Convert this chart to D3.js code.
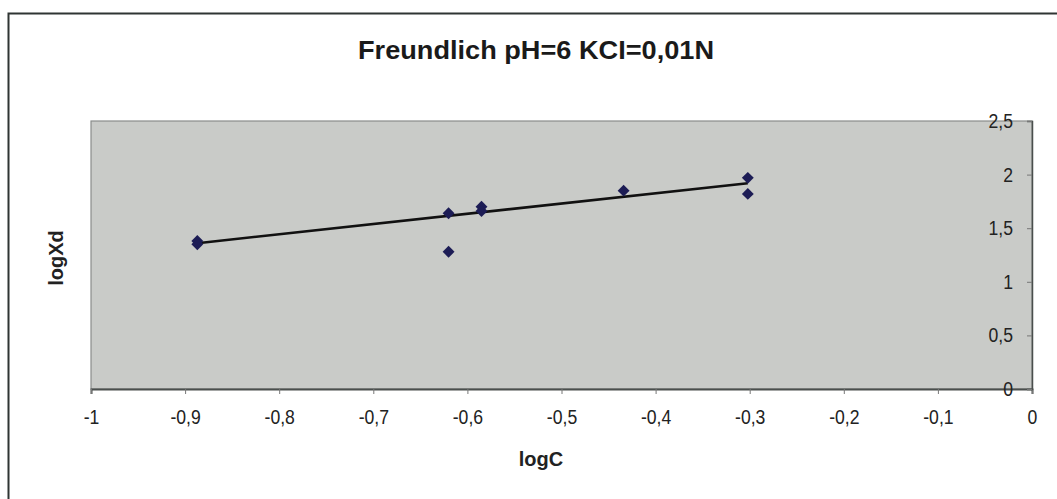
<!DOCTYPE html>
<html>
<head>
<meta charset="utf-8">
<script src="https://cdn.jsdelivr.net/npm/d3@7"></script>
<style>
  html, body { margin: 0; padding: 0; background: #ffffff; }
  svg { display: block; }
  text { font-family: Arial, "Liberation Sans", sans-serif; }
</style>
</head>
<body>
<svg id="chart" width="1057" height="499"></svg>
<script>
const titleText = "Freundlich pH=6 KCI=0,01N";
const xLabel = "logC";
const yLabel = "logXd";

const logC  = [-0.887, -0.887, -0.620, -0.620, -0.585, -0.585, -0.434, -0.302, -0.302];
const logXd = [ 1.38,   1.35,   1.64,   1.28,   1.70,   1.66,   1.85,   1.97,   1.82 ];

const trendX = [-0.887, -0.302];
const trendY = [ 1.36,   1.92 ];

const xTicks = [-1, -0.9, -0.8, -0.7, -0.6, -0.5, -0.4, -0.3, -0.2, -0.1, 0];
const yTicks = [0, 0.5, 1, 1.5, 2, 2.5];

const svg = d3.select("#chart");
const fmt = v => String(+v.toFixed(2)).replace(".", ",");

// outer chart border
svg.append("rect").attr("x", 8.5).attr("y", 13.5).attr("width", 1060).attr("height", 500)
  .attr("fill", "#ffffff").attr("stroke", "#2f3533").attr("stroke-width", 2);

const L = 91, R = 1032, T = 121, B = 389;
const x = d3.scaleLinear().domain([-1, 0]).range([L, R]);
const y = d3.scaleLinear().domain([0, 2.5]).range([B, T]);

// plot area
svg.append("rect").attr("x", L).attr("y", T).attr("width", R - L).attr("height", B - T)
  .attr("fill", "#c9cbc8").attr("stroke", "#8a8d8b").attr("stroke-width", 1.2);

// x axis
const xAxis = d3.axisBottom(x).tickValues(xTicks).tickFormat(fmt).tickSize(5).tickPadding(16);
const gx = svg.append("g").attr("transform", `translate(0,${B})`).call(xAxis);
gx.select(".domain").attr("stroke", "#4a4f4d").attr("stroke-width", 2);
gx.selectAll(".tick line").attr("stroke", "#777");
gx.selectAll("text").attr("font-size", 20).attr("fill", "#222");

// y axis (at x = 0, right edge), labels on the left
const yAxis = d3.axisLeft(y).tickValues(yTicks).tickFormat(fmt).tickSize(5).tickPadding(14);
const gy = svg.append("g").attr("transform", `translate(${R},0)`).call(yAxis);
gy.select(".domain").attr("stroke", "#4a4f4d").attr("stroke-width", 1.5);
gy.selectAll(".tick line").attr("stroke", "#777");
gy.selectAll("text").attr("font-size", 20).attr("fill", "#222");

// slightly condensed tick labels, as in the reference
svg.selectAll(".tick text").each(function () {
  const w = this.getComputedTextLength();
  d3.select(this).attr("textLength", w * 0.88).attr("lengthAdjust", "spacingAndGlyphs");
});

// trend line
svg.append("path")
  .datum(trendX.map((d, i) => [d, trendY[i]]))
  .attr("d", d3.line().x(d => x(d[0])).y(d => y(d[1])))
  .attr("fill", "none").attr("stroke", "#111").attr("stroke-width", 2.6);

// points (diamonds)
const diamond = d3.symbol().type(d3.symbolDiamond2).size(90);
svg.append("g").selectAll("path")
  .data(logC.map((d, i) => [d, logXd[i]]))
  .join("path")
  .attr("d", diamond)
  .attr("transform", d => `translate(${x(d[0])},${y(d[1])})`)
  .attr("fill", "#1c1c55");

// titles
svg.append("text").attr("x", 536).attr("y", 59).attr("text-anchor", "middle")
  .attr("font-size", 26).attr("font-weight", "bold").attr("fill", "#1a1a1a")
  .attr("textLength", 356).attr("lengthAdjust", "spacingAndGlyphs").text(titleText);
svg.append("text").attr("x", 541).attr("y", 466).attr("text-anchor", "middle")
  .attr("font-size", 20).attr("font-weight", "bold").attr("fill", "#222").text(xLabel);
svg.append("text").attr("transform", "translate(63,258) rotate(-90)").attr("text-anchor", "middle")
  .attr("font-size", 20).attr("font-weight", "bold").attr("fill", "#222").text(yLabel);
</script>
</body>
</html>
